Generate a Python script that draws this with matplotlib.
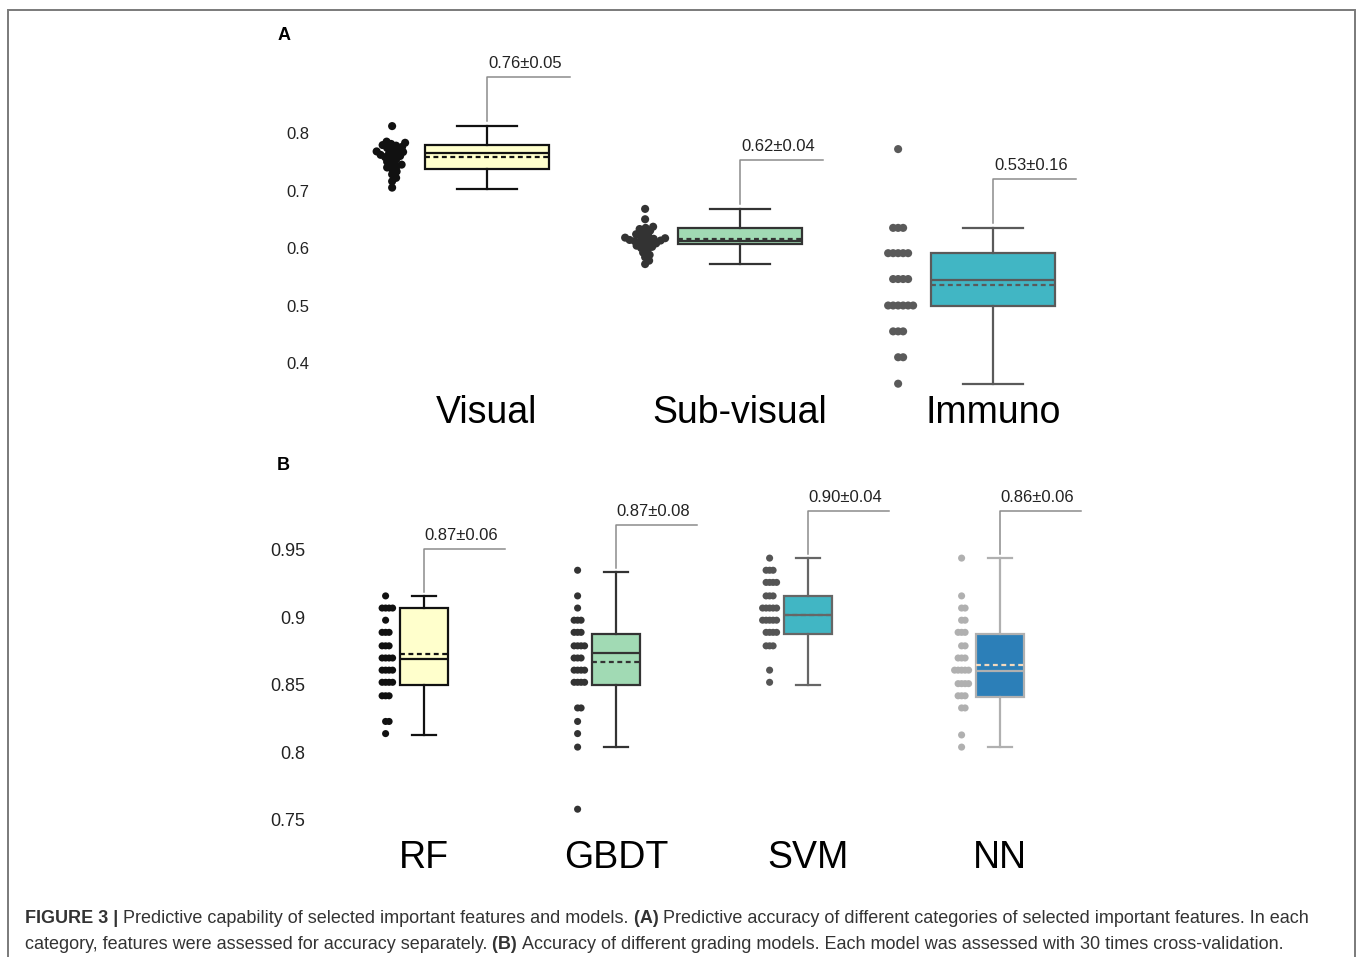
import numpy as np
import matplotlib
matplotlib.use("Agg")
import matplotlib.pyplot as plt
from matplotlib.patches import Rectangle

plt.rcParams['font.family'] = ['Liberation Sans', 'DejaVu Sans']

W, H = 1358, 957

# ---- panel A: feature categories ----
cats_a = ['Visual', 'Sub-visual', 'Immuno']
visual = [0.812, 0.785, 0.783, 0.781, 0.779, 0.778, 0.776, 0.774, 0.772, 0.770,
          0.768, 0.767, 0.765, 0.764, 0.762, 0.760, 0.758, 0.757, 0.754, 0.750,
          0.748, 0.745, 0.742, 0.740, 0.737, 0.733, 0.728, 0.722, 0.716, 0.705]
subvisual = [0.668, 0.650, 0.637, 0.635, 0.633, 0.630, 0.627, 0.624, 0.622, 0.620,
             0.618, 0.617, 0.616, 0.615, 0.614, 0.613, 0.612, 0.611, 0.610, 0.608,
             0.606, 0.604, 0.602, 0.600, 0.597, 0.592, 0.588, 0.584, 0.578, 0.572]
immuno = [0.772, 0.635, 0.635, 0.635, 0.591, 0.591, 0.591, 0.591, 0.591,
          0.546, 0.546, 0.546, 0.546, 0.500, 0.500, 0.500, 0.500, 0.500, 0.500,
          0.455, 0.455, 0.455, 0.410, 0.410, 0.364]
q1_a = [0.737, 0.607, 0.500]
med_a = [0.765, 0.612, 0.544]
q3_a = [0.779, 0.635, 0.591]
lo_a = [0.703, 0.572, 0.363]
hi_a = [0.812, 0.668, 0.635]
mean_a = [0.758, 0.616, 0.535]
notes_a = ['0.76±0.05', '0.62±0.04', '0.53±0.16']

# ---- panel B: grading models ----
cats_b = ['RF', 'GBDT', 'SVM', 'NN']
rf = [0.916, 0.907, 0.907, 0.907, 0.907, 0.898, 0.889, 0.889, 0.889, 0.879,
      0.879, 0.879, 0.870, 0.870, 0.870, 0.870, 0.861, 0.861, 0.861, 0.861,
      0.852, 0.852, 0.852, 0.852, 0.842, 0.842, 0.842, 0.823, 0.823, 0.814]
gbdt = [0.935, 0.916, 0.907, 0.898, 0.898, 0.898, 0.889, 0.889, 0.889, 0.879,
        0.879, 0.879, 0.879, 0.870, 0.870, 0.870, 0.861, 0.861, 0.861, 0.861,
        0.852, 0.852, 0.852, 0.852, 0.833, 0.833, 0.823, 0.814, 0.804, 0.758]
svm = [0.944, 0.935, 0.935, 0.935, 0.926, 0.926, 0.926, 0.926, 0.916, 0.916,
       0.916, 0.907, 0.907, 0.907, 0.907, 0.907, 0.898, 0.898, 0.898, 0.898,
       0.898, 0.889, 0.889, 0.889, 0.889, 0.879, 0.879, 0.879, 0.861, 0.852]
nn = [0.944, 0.916, 0.907, 0.907, 0.898, 0.898, 0.889, 0.889, 0.889, 0.879,
      0.879, 0.870, 0.870, 0.870, 0.861, 0.861, 0.861, 0.861, 0.861, 0.851,
      0.851, 0.851, 0.851, 0.842, 0.842, 0.842, 0.833, 0.833, 0.813, 0.804]
q1_b = [0.850, 0.850, 0.888, 0.841]
med_b = [0.869, 0.874, 0.902, 0.860]
q3_b = [0.907, 0.888, 0.916, 0.888]
lo_b = [0.813, 0.804, 0.850, 0.804]
hi_b = [0.916, 0.934, 0.944, 0.944]
mean_b = [0.873, 0.867, 0.902, 0.865]
notes_b = ['0.87±0.06', '0.87±0.08', '0.90±0.04', '0.86±0.06']

yticks_a = [0.4, 0.5, 0.6, 0.7, 0.8]
yticks_b = [0.75, 0.8, 0.85, 0.9, 0.95]
ytl_b = ['0.75', '0.8', '0.85', '0.9', '0.95']

# styles
face_a = ['#ffffcc', '#a1dab4', '#41b6c4']
edge_a = ['#111111', '#333333', '#5a5a5a']
face_b = ['#ffffcc', '#a1dab4', '#41b6c4', '#2c7fb8']
edge_b = ['#111111', '#333333', '#666666', '#b0b0b0']
dot_b = ['#111111', '#333333', '#555555', '#b0b0b0']
mline_b = ['#111111', '#333333', '#666666', '#f3d9bd']

fig = plt.figure(figsize=(W / 100, H / 100), dpi=100)


def px_axes(x0, y0, x1, y1):
    return fig.add_axes([x0 / W, 1 - y1 / H, (x1 - x0) / W, (y1 - y0) / H])


def swarm(ax, center, vals, mind):
    xy = ax.transData.transform(np.column_stack([np.full(len(vals), center), vals]))
    cx, ys = xy[0, 0], xy[:, 1]
    xs = np.zeros(len(vals))
    placed = []
    offs = [0.0]
    for k in np.arange(1, 120) * 0.5:
        offs += [k, -k]
    for i in np.argsort(ys):
        for o in offs:
            if all((o - px) ** 2 + (ys[i] - py) ** 2 >= mind ** 2 for px, py in placed):
                break
        placed.append((o, ys[i]))
        xs[i] = cx + o
    return ax.transData.inverted().transform(np.column_stack([xs, ys]))[:, 0]


def draw_box(ax, pos, width, st, face, edge, mcol, lw=1.6):
    ax.bxp([st], positions=[pos], widths=width, capwidths=width * 0.48,
           patch_artist=True, showmeans=True, meanline=True, showfliers=False,
           boxprops=dict(facecolor=face, edgecolor=edge, linewidth=lw),
           whiskerprops=dict(color=edge, linewidth=lw),
           capprops=dict(color=edge, linewidth=lw),
           medianprops=dict(color=edge, linewidth=lw),
           meanprops=dict(color=mcol, linewidth=lw, linestyle=(0, (2.2, 1.6))))


def bracket(ax, pos, top_from, note, ppx, ppy, gap, length, hlen, dx):
    y0 = top_from + gap / ppy
    y1 = y0 + length / ppy
    ax.plot([pos, pos, pos + hlen / ppx], [y0, y1, y1], color='#8c8c8c', lw=1.1)
    ax.text(pos + dx / ppx, y1 + 6 / ppy, note, ha='center', va='bottom',
            fontsize=12, color='#222222')


# ---- panel A axes: 0.8 at y=133px, 0.4 at y=363px; Visual at x=487px, step 253px ----
ppy_a, ppx_a = 575.0, 253.0
axA = px_axes(312, 30, 1200, 392)
axA.set_xlim(-(487 - 312) / ppx_a, (1200 - 487) / ppx_a)
axA.set_ylim(0.8 - (392 - 133) / ppy_a, 0.8 + (133 - 30) / ppy_a)

groups_a = [visual, subvisual, immuno]
for i, vals in enumerate(groups_a):
    st = dict(q1=q1_a[i], med=med_a[i], q3=q3_a[i], whislo=lo_a[i], whishi=hi_a[i],
              mean=mean_a[i], fliers=[])
    draw_box(axA, i, 0.49, st, face_a[i], edge_a[i], edge_a[i])
    xs = swarm(axA, i - 0.375, vals, 5.0)
    axA.scatter(xs, vals, s=34, color=edge_a[i], edgecolors='none', zorder=3)
    bracket(axA, i, hi_a[i], notes_a[i], ppx_a, ppy_a, 5, 44, 83, 38)

axA.set_xticks(range(len(cats_a)))
axA.set_xticklabels(cats_a, fontsize=27)
axA.set_yticks(yticks_a)
axA.set_yticklabels([f'{t:.1f}' for t in yticks_a], fontsize=12, color='#222222')
axA.tick_params(axis='both', length=0)
axA.tick_params(axis='y', pad=2)
axA.tick_params(axis='x', pad=2.5)
for s in axA.spines.values():
    s.set_visible(False)

# ---- panel B axes: 0.95 at y=550px, 0.75 at y=820px; RF at x=424px, step 192px ----
ppy_b, ppx_b = 1350.0, 192.0
axB = px_axes(312, 480, 1200, 826)
axB.set_xlim(-(424 - 312) / ppx_b, (1200 - 424) / ppx_b)
axB.set_ylim(0.95 - (826 - 550) / ppy_b, 0.95 + (550 - 480) / ppy_b)

groups_b = [rf, gbdt, svm, nn]
for i, vals in enumerate(groups_b):
    st = dict(q1=q1_b[i], med=med_b[i], q3=q3_b[i], whislo=lo_b[i], whishi=hi_b[i],
              mean=mean_b[i], fliers=[])
    draw_box(axB, i, 0.25, st, face_b[i], edge_b[i], mline_b[i])
    xs = swarm(axB, i - 0.2, vals, 3.2)
    axB.scatter(xs, vals, s=26, color=dot_b[i], edgecolors='none', zorder=3)
    bracket(axB, i, hi_b[i], notes_b[i], ppx_b, ppy_b, 4, 43, 81, 37)

axB.set_xticks(range(len(cats_b)))
axB.set_xticklabels(cats_b, fontsize=27)
axB.set_yticks(yticks_b)
axB.set_yticklabels(ytl_b, fontsize=13, color='#222222')
axB.tick_params(axis='both', length=0)
axB.tick_params(axis='y', pad=5)
axB.tick_params(axis='x', pad=10)
for s in axB.spines.values():
    s.set_visible(False)

# panel letters
fig.text(284 / W, 1 - 35 / H, 'A', fontsize=13, fontweight='bold', ha='center', va='center')
fig.text(283 / W, 1 - 466 / H, 'B', fontsize=13, fontweight='bold', ha='center', va='center')

# frame
fig.add_artist(Rectangle((8 / W, -0.05), (1355 - 8) / W, 1 - 10 / H + 0.05,
                         transform=fig.transFigure, fill=False, ec='#7a7a7a', lw=1.4))

# caption with bold pieces
line1 = [('FIGURE 3 | ', True), ('Predictive capability of selected important features and models. ', False),
         ('(A) ', True), ('Predictive accuracy of different categories of selected important features. In each', False)]
line2 = [('category, features were assessed for accuracy separately. ', False), ('(B) ', True),
         ('Accuracy of different grading models. Each model was assessed with 30 times cross-validation.', False)]

renderer = fig.canvas.get_renderer()


def rich_line(parts, x_px, y_px, size):
    x = x_px
    arts = []
    for txt, bold in parts:
        t = fig.text(x / W, 1 - y_px / H, txt, fontsize=size, va='baseline', ha='left',
                     fontweight='bold' if bold else 'normal', color='#333333')
        x += t.get_window_extent(renderer=renderer).width
        arts.append(t)
    return x, arts


end, arts = rich_line(line1, 25, 923, 12)
for a in arts:
    a.remove()
cap_size = 12 * (1313 - 25) / (end - 25)
rich_line(line1, 25, 923, cap_size)
rich_line(line2, 25, 949, cap_size)

fig.savefig('out.png', dpi=100)
